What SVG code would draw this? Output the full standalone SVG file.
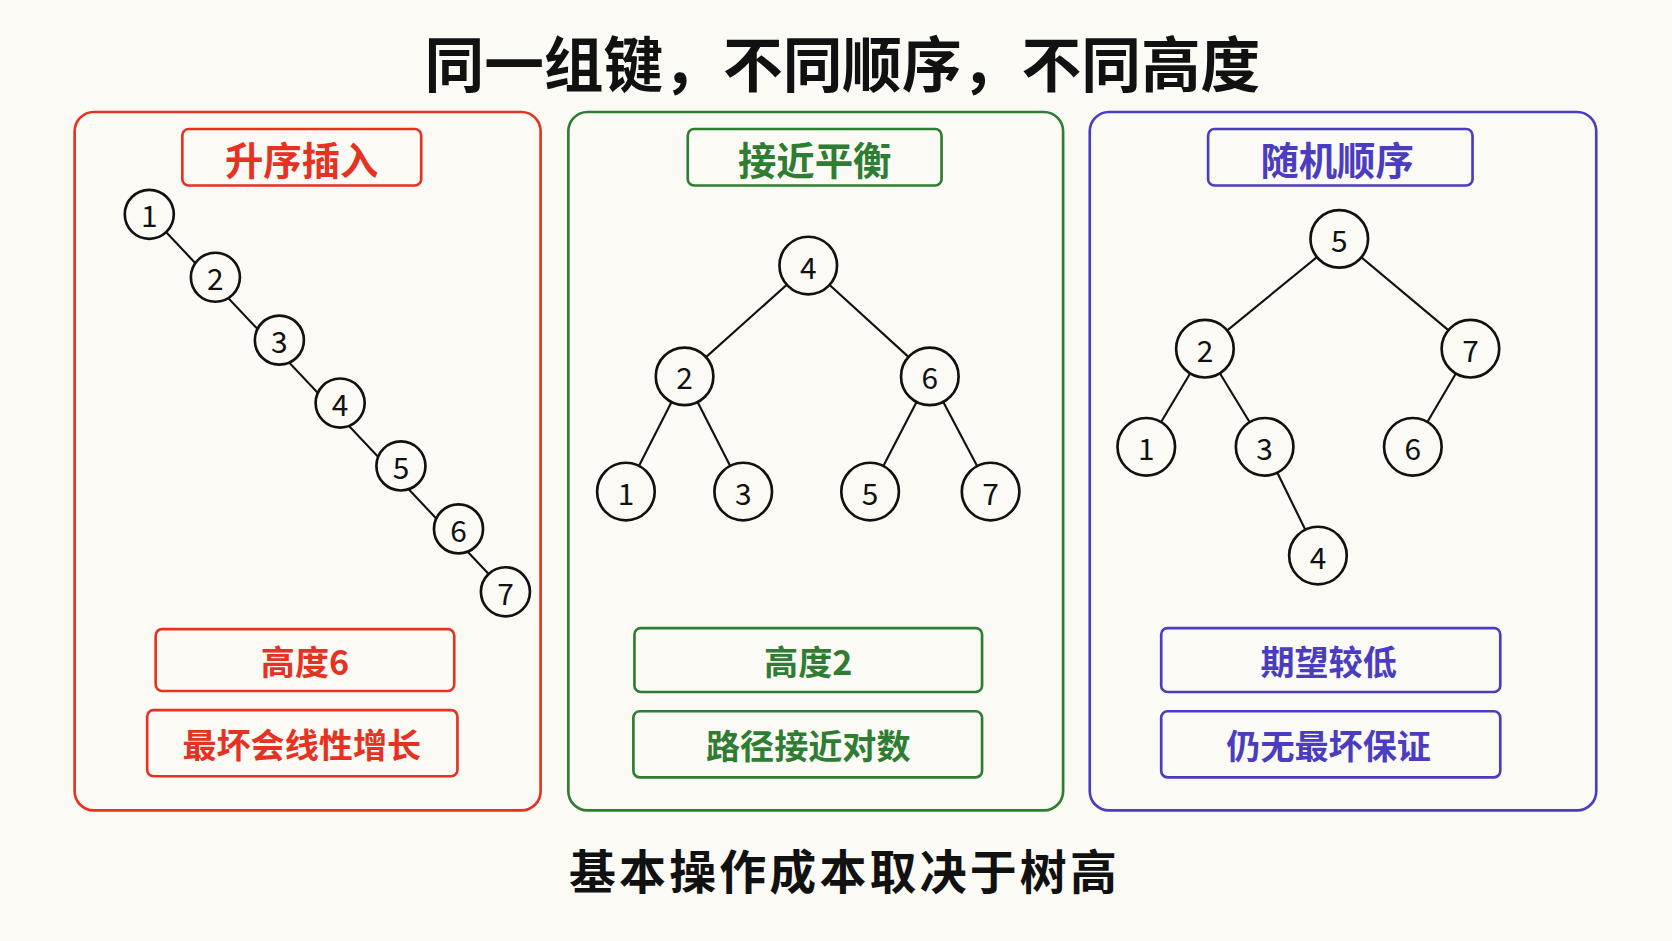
<svg xmlns="http://www.w3.org/2000/svg" width="1672" height="941" viewBox="0 0 1672 941">
<style>
text{font-family:"Noto Sans CJK SC","Noto Sans",sans-serif;font-weight:bold;text-anchor:middle;dominant-baseline:central}
.n circle{fill:#fbfaf5;stroke:#111;stroke-width:2.5}
.n text{font-size:28px;font-weight:normal;fill:#111}
.e line{stroke:#111;stroke-width:2}
.r{stroke:#e53223;fill:none;stroke-width:2.5}.rt{fill:#e53223}
.g{stroke:#2e7d32;fill:none;stroke-width:2.5}.gt{fill:#2e7d32}
.p{stroke:#4b3cc0;fill:none;stroke-width:2.5}.pt{fill:#4b3cc0}
.lb{font-size:36px}.bx{font-size:32px}
</style>
<rect width="1672" height="941" fill="#fbfaf5"/>
<g transform="scale(1.0663)">
<text x="790" y="57" font-size="56" fill="#111">同一组键，不同顺序，不同高度</text>
<g id="panel1">
<rect class="r" x="70" y="105" width="437" height="655" rx="18"/>
<rect class="r" x="171" y="121" width="224" height="53" rx="6"/><text class="rt lb" x="283" y="148">升序插入</text>
<rect class="r" x="146" y="590" width="280" height="58" rx="6"/><text class="rt bx" x="286" y="619">高度6</text>
<rect class="r" x="138" y="666" width="291" height="62" rx="6"/><text class="rt bx" x="283" y="697">最坏会线性增长</text>
</g>
<g id="panel2">
<rect class="g" x="533" y="105" width="464" height="655" rx="18"/>
<rect class="g" x="645" y="121" width="238" height="53" rx="6"/><text class="gt lb" x="764" y="148">接近平衡</text>
<rect class="g" x="595" y="589" width="326" height="60" rx="6"/><text class="gt bx" x="758" y="619">高度2</text>
<rect class="g" x="594" y="667" width="327" height="62" rx="6"/><text class="gt bx" x="758" y="698">路径接近对数</text>
</g>
<g id="panel3">
<rect class="p" x="1022" y="105" width="475" height="655" rx="18"/>
<rect class="p" x="1133" y="121" width="248" height="53" rx="6"/><text class="pt lb" x="1254" y="148">随机顺序</text>
<rect class="p" x="1089" y="589" width="318" height="60" rx="6"/><text class="pt bx" x="1246" y="619">期望较低</text>
<rect class="p" x="1089" y="667" width="318" height="62" rx="6"/><text class="pt bx" x="1246" y="698">仍无最坏保证</text>
</g>
<g id="connectors" class="e">
<line x1="140" y1="201" x2="474" y2="555"/>
<line x1="758" y1="249" x2="642" y2="353"/><line x1="758" y1="249" x2="872" y2="353"/>
<line x1="642" y1="353" x2="587" y2="461"/><line x1="642" y1="353" x2="697" y2="461"/>
<line x1="872" y1="353" x2="816" y2="461"/><line x1="872" y1="353" x2="929" y2="461"/>
<line x1="1256" y1="224" x2="1130" y2="327"/><line x1="1256" y1="224" x2="1379" y2="327"/>
<line x1="1130" y1="327" x2="1075" y2="419"/><line x1="1130" y1="327" x2="1186" y2="419"/>
<line x1="1379" y1="327" x2="1325" y2="419"/><line x1="1186" y1="419" x2="1236" y2="521"/>
</g>
<g class="n">
<g id="a1"><circle cx="140" cy="201" r="23"/><text x="140" y="201">1</text></g>
<g id="a2"><circle cx="202" cy="260" r="23"/><text x="202" y="260">2</text></g>
<g id="a3"><circle cx="262" cy="319" r="23"/><text x="262" y="319">3</text></g>
<g id="a4"><circle cx="319" cy="378" r="23"/><text x="319" y="378">4</text></g>
<g id="a5"><circle cx="376" cy="437" r="23"/><text x="376" y="437">5</text></g>
<g id="a6"><circle cx="430" cy="496" r="23"/><text x="430" y="496">6</text></g>
<g id="a7"><circle cx="474" cy="555" r="23"/><text x="474" y="555">7</text></g>
<g id="b4"><circle cx="758" cy="249" r="27"/><text x="758" y="249">4</text></g>
<g id="b2"><circle cx="642" cy="353" r="27"/><text x="642" y="353">2</text></g>
<g id="b6"><circle cx="872" cy="353" r="27"/><text x="872" y="353">6</text></g>
<g id="b1"><circle cx="587" cy="461" r="27"/><text x="587" y="461">1</text></g>
<g id="b3"><circle cx="697" cy="461" r="27"/><text x="697" y="461">3</text></g>
<g id="b5"><circle cx="816" cy="461" r="27"/><text x="816" y="461">5</text></g>
<g id="b7"><circle cx="929" cy="461" r="27"/><text x="929" y="461">7</text></g>
<g id="c5"><circle cx="1256" cy="224" r="27"/><text x="1256" y="224">5</text></g>
<g id="c2"><circle cx="1130" cy="327" r="27"/><text x="1130" y="327">2</text></g>
<g id="c7"><circle cx="1379" cy="327" r="27"/><text x="1379" y="327">7</text></g>
<g id="c1"><circle cx="1075" cy="419" r="27"/><text x="1075" y="419">1</text></g>
<g id="c3"><circle cx="1186" cy="419" r="27"/><text x="1186" y="419">3</text></g>
<g id="c6"><circle cx="1325" cy="419" r="27"/><text x="1325" y="419">6</text></g>
<g id="c4"><circle cx="1236" cy="521" r="27"/><text x="1236" y="521">4</text></g>
</g>
<text x="792" y="815" font-size="44" fill="#111" letter-spacing="3">基本操作成本取决于树高</text>
</g>
</svg>
